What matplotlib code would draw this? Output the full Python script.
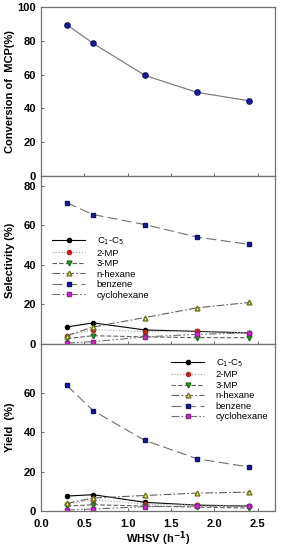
import matplotlib
matplotlib.use("Agg")
import matplotlib.pyplot as plt

plt.rcParams['font.family'] = ['Liberation Sans', 'DejaVu Sans']

whsv = [0.3, 0.6, 1.2, 1.8, 2.4]
conversion = [89.5, 78.5, 59.5, 49.5, 44.5]

series_names = ["C$_1$-C$_5$", "2-MP", "3-MP", "n-hexane", "benzene", "cyclohexane"]
sel_c1c5 = [8.6, 10.7, 7.1, 6.4, 5.6]
sel_2mp = [4.2, 7.3, 6.3, 6.6, 5.6]
sel_3mp = [2.7, 4.2, 3.6, 3.2, 3.2]
sel_nhex = [4.2, 8.6, 13.4, 18.3, 21.0]
sel_benz = [71.4, 65.5, 60.4, 54.1, 50.4]
sel_cyc = [0.5, 1.2, 3.6, 4.9, 5.6]

yld_c1c5 = [7.6, 8.3, 4.4, 3.0, 2.5]
yld_2mp = [3.5, 5.7, 3.5, 3.2, 2.5]
yld_3mp = [2.5, 3.2, 2.5, 2.0, 1.5]
yld_nhex = [3.9, 6.6, 7.9, 9.1, 9.6]
yld_benz = [63.9, 51.1, 35.9, 26.6, 22.4]
yld_cyc = [0.5, 1.0, 2.2, 2.5, 2.5]

styles = [
    dict(color='black', ls='-', marker='o', mfc='black', mec='black', ms=3),
    dict(color='#a0a0a0', ls=':', marker='o', mfc='#c0201a', mec='#c0201a', ms=3),
    dict(color='#606060', ls=(0, (4, 2)), marker='v', mfc='#20a020', mec='#207020', ms=3.5),
    dict(color='#606060', ls=(0, (7, 2, 1.5, 2)), marker='^', mfc='#f0f080', mec='#707020', ms=3.5),
    dict(color='#707070', ls=(0, (9, 4)), marker='s', mfc='#1a1aa0', mec='#101070', ms=3),
    dict(color='#707070', ls=(0, (7, 2, 1.5, 2, 1.5, 2)), marker='s', mfc='#e020e0', mec='#902090', ms=3),
]

fig = plt.figure(figsize=(2.82, 5.5), dpi=100)
L, W = 41 / 282, 234 / 282
ax1 = fig.add_axes([L, 1 - 176 / 550, W, 169 / 550])
ax2 = fig.add_axes([L, 1 - 344 / 550, W, 168 / 550])
ax3 = fig.add_axes([L, 1 - 511 / 550, W, 167 / 550])

for ax in (ax1, ax2, ax3):
    ax.set_xlim(0, 2.7)
    ax.set_xticks([0.0, 0.5, 1.0, 1.5, 2.0, 2.5])
    ax.tick_params(direction='in', length=2.5, width=0.6, colors='#505050', labelcolor='black')
    ax.tick_params(axis='x', pad=6)
    for s in ax.spines.values():
        s.set_color('#707070')
        s.set_linewidth(0.9)

ax1.plot(whsv, conversion, color='#808080', lw=0.9, marker='o', mfc='#1a1aa0', mec='#101070', ms=3.8)
ax1.set_ylim(0, 100)
ax1.set_yticks([0, 20, 40, 60, 80, 100])
ax1.set_xticklabels([])
ax1.set_ylabel("Conversion of  MCP(%)", fontsize=8, fontweight='bold', labelpad=2)

sel = [sel_c1c5, sel_2mp, sel_3mp, sel_nhex, sel_benz, sel_cyc]
yld = [yld_c1c5, yld_2mp, yld_3mp, yld_nhex, yld_benz, yld_cyc]

for vals, name, st in zip(sel, series_names, styles):
    ax2.plot(whsv, vals, lw=0.8, label=name, **st)
ax2.set_ylim(0, 85)
ax2.set_yticks([0, 20, 40, 60, 80])
ax2.set_xticklabels([])
ax2.set_ylabel("Selectivity (%)", fontsize=8, fontweight='bold', labelpad=6)
ax2.legend(loc='upper left', bbox_to_anchor=(0.02, 0.685), fontsize=6.8, frameon=False,
           handlelength=3.5, handletextpad=1.2, labelspacing=0.16, borderpad=0.2)

for vals, name, st in zip(yld, series_names, styles):
    ax3.plot(whsv, vals, lw=0.8, label=name, **st)
ax3.set_ylim(0, 85)
ax3.set_yticks([0, 20, 40, 60])
ax3.set_ylabel("Yield  (%)", fontsize=8, fontweight='bold', labelpad=6)
ax3.set_xlabel("WHSV (h$^{\\mathbf{-1}}$)", fontsize=8, fontweight='bold', labelpad=0)
ax3.legend(loc='upper right', bbox_to_anchor=(1.0, 0.96), fontsize=6.8, frameon=False,
           handlelength=3.5, handletextpad=1.2, labelspacing=0.16, borderpad=0.2)

for ax in (ax1, ax2, ax3):
    for lab in ax.get_yticklabels() + ax.get_xticklabels():
        lab.set_fontweight('bold')
        lab.set_fontsize(8)

fig.savefig("out.png", dpi=100)
